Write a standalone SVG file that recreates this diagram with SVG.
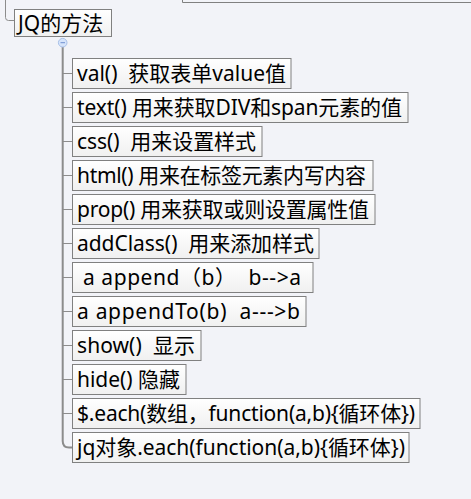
<svg xmlns="http://www.w3.org/2000/svg" width="471" height="499" viewBox="0 0 471 499">
<defs>
<linearGradient id="bg" x1="0" y1="0" x2="0" y2="1">
<stop offset="0" stop-color="#ffffff"/>
<stop offset="1" stop-color="#f0f0f0"/>
</linearGradient>
<style>
.box{fill:url(#bg);stroke:#808080;stroke-width:1}
.t{font-family:"Noto Sans","Noto Sans CJK SC",sans-serif;font-size:21px;fill:#000;white-space:pre}
.c{fill:none;stroke:#8c8c8c;stroke-width:1}
.trunk{fill:none;stroke:#8c8c8c;stroke-width:2}
</style>
</defs>
<rect width="471" height="499" fill="#f2f3f8"/>
<g id="parent-edge">
<path d="M182.5,0 V2.5 H471" fill="none" stroke="#808080" stroke-width="1"/>
</g>
<g id="connectors">
<path class="c" d="M5.5,0 V17.5 Q5.5,20.5 8.5,20.5 H14.5"/>
<path class="trunk" d="M62.7,47 V441 Q62.7,447.5 69,447.5 H72.5"/>
<path class="c" d="M62.7,73.5 H72.5 M62.7,107.5 H72.5 M62.7,141.5 H72.5 M62.7,175.5 H72.5 M62.7,209.5 H72.5 M62.7,243.5 H72.5 M62.7,277.5 H72.5 M62.7,311.5 H72.5 M62.7,345.5 H72.5 M62.7,379.5 H72.5 M62.7,413.5 H72.5"/>
</g>
<g id="root">
<rect class="box" x="14.5" y="9.5" width="97" height="27"/>
<text class="t" x="18" y="30.5">JQ的方法</text>
</g>
<g id="collapse">
<circle cx="62.7" cy="42.7" r="4.3" fill="#d6e4fb" stroke="#a8c0e8" stroke-width="1"/>
<path d="M60.5,42.7 H65" stroke="#7090d0" stroke-width="1"/>
</g>
<g id="n0"><rect class="box" x="72.5" y="58.5" width="218.5" height="30"/><text class="t" x="77" y="81" textLength="209" lengthAdjust="spacing">val()  获取表单value值</text></g>
<g id="n1"><rect class="box" x="72.5" y="92.5" width="335.5" height="30"/><text class="t" x="77" y="115" textLength="325" lengthAdjust="spacing">text() 用来获取DIV和span元素的值</text></g>
<g id="n2"><rect class="box" x="72.5" y="126.5" width="189.5" height="30"/><text class="t" x="77" y="149" textLength="179" lengthAdjust="spacing">css()  用来设置样式</text></g>
<g id="n3"><rect class="box" x="72.5" y="160.5" width="300.5" height="30"/><text class="t" x="77" y="183" textLength="289" lengthAdjust="spacing">html() 用来在标签元素内写内容</text></g>
<g id="n4"><rect class="box" x="72.5" y="194.5" width="302.5" height="30"/><text class="t" x="77" y="217" textLength="292" lengthAdjust="spacing">prop() 用来获取或则设置属性值</text></g>
<g id="n5"><rect class="box" x="72.5" y="228.5" width="246.5" height="30"/><text class="t" x="77" y="251" textLength="237" lengthAdjust="spacing">addClass()  用来添加样式</text></g>
<g id="n6"><rect class="box" x="72.5" y="262.5" width="240.5" height="30"/><text class="t" x="77" y="285" textLength="224" lengthAdjust="spacing"> a append（b）  b--&gt;a</text></g>
<g id="n7"><rect class="box" x="72.5" y="296.5" width="233.5" height="30"/><text class="t" x="77" y="319" textLength="223" lengthAdjust="spacing">a appendTo(b)  a---&gt;b</text></g>
<g id="n8"><rect class="box" x="72.5" y="330.5" width="128.5" height="30"/><text class="t" x="77" y="353" textLength="118" lengthAdjust="spacing">show()  显示</text></g>
<g id="n9"><rect class="box" x="72.5" y="364.5" width="113.5" height="30"/><text class="t" x="77" y="387" textLength="103" lengthAdjust="spacing">hide() 隐藏</text></g>
<g id="n10"><rect class="box" x="72.5" y="398.5" width="347.5" height="30"/><text class="t" x="77" y="421" textLength="338" lengthAdjust="spacing">$.each(数组，function(a,b){循环体})</text></g>
<g id="n11"><rect class="box" x="72.5" y="432.5" width="336.5" height="30"/><text class="t" x="77" y="455" textLength="328" lengthAdjust="spacing">jq对象.each(function(a,b){循环体})</text></g>
</svg>
